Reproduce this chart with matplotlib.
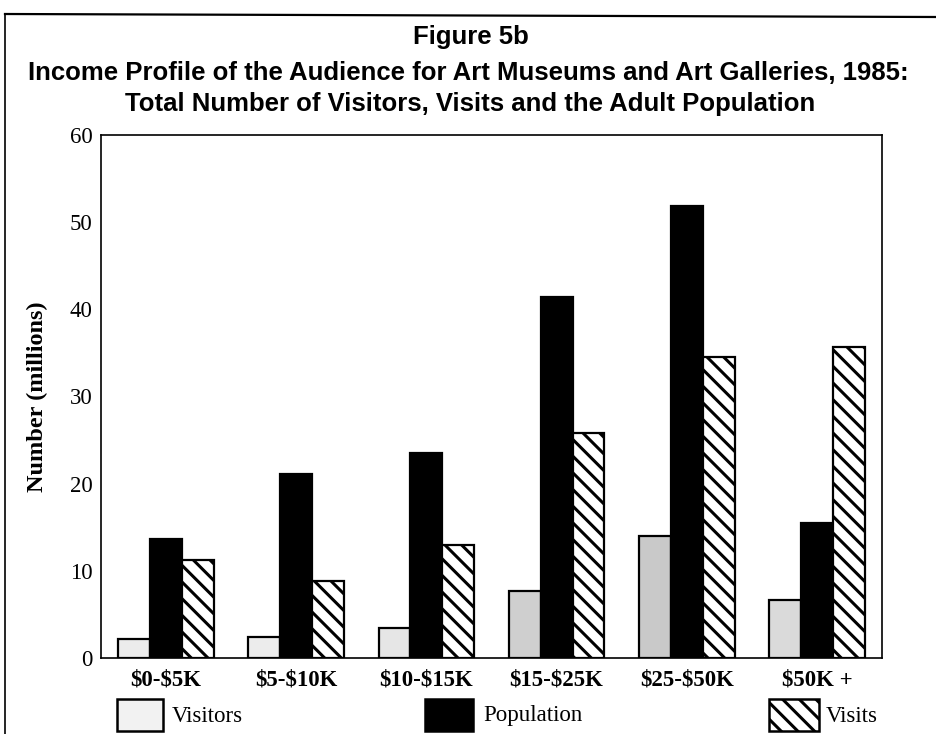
import matplotlib
matplotlib.use("Agg")
import matplotlib.pyplot as plt
import numpy as np
from matplotlib.patches import Rectangle
from matplotlib.lines import Line2D

categories = ["$0-$5K", "$5-$10K", "$10-$15K", "$15-$25K", "$25-$50K", "$50K +"]
visitors = [2.2, 2.4, 3.4, 7.7, 14.0, 6.7]
population = [13.7, 21.1, 23.5, 41.4, 51.8, 15.5]
visits = [11.2, 8.8, 13.0, 25.8, 34.5, 35.7]
yticks = [0, 10, 20, 30, 40, 50, 60]
legend_labels = ["Visitors", "Population", "Visits"]

W, H = 936, 734
plt.rcParams["hatch.linewidth"] = 2.2
fig = plt.figure(figsize=(W / 100, H / 100), dpi=100)
ax = fig.add_axes([101 / W, 1 - 658 / H, (882 - 101) / W, (658 - 135) / H])

x = np.arange(len(categories))
bw = 0.245
visitor_colors = ["#ececec", "#ececec", "#e6e6e6", "#cfcfcf", "#c9c9c9", "#dadada"]
ax.bar(x - bw, visitors, bw, color=visitor_colors, edgecolor="black", linewidth=1.6)
ax.bar(x, population, bw, color="black", edgecolor="black", linewidth=1.6)
ax.bar(x + bw, visits, bw, color="white", edgecolor="black", linewidth=1.6, hatch="\\\\")

ax.set_xlim(-0.5, 5.5)
ax.set_ylim(0, 60)
ax.set_yticks(yticks)
ax.set_yticklabels([str(t) for t in yticks], family="Liberation Serif", fontsize=16.5)
ax.set_xticks(x)
ax.set_xticklabels([c.replace("$", r"\$") for c in categories],
                   family="Liberation Serif", fontweight="bold", fontsize=16.5)
ax.tick_params(axis="both", length=0)
ax.tick_params(axis="y", pad=6)
ax.tick_params(axis="x", pad=8)
for s in ax.spines.values():
    s.set_linewidth(1.2)
ax.set_ylabel("Number (millions)", family="Liberation Serif", fontweight="bold", fontsize=17.5)
ax.yaxis.set_label_coords(-0.068, 0.5)

# titles
title_font = dict(family="Liberation Sans", fontweight="bold", fontsize=18.5, ha="center", va="center")
fig.text(471 / W, 1 - 37 / H, "Figure 5b", **title_font)
fig.text(468 / W, 1 - 73 / H, "Income Profile of the Audience for Art Museums and Art Galleries, 1985:", **title_font)
fig.text(470 / W, 1 - 104 / H, "Total Number of Visitors, Visits and the Adult Population", **title_font)

# frame
fig.add_artist(Line2D([5 / W, 5 / W], [0, 1 - 14 / H], transform=fig.transFigure, color="black", lw=1.2))
fig.add_artist(Line2D([5 / W, 1], [1 - 14 / H, 1 - 17 / H], transform=fig.transFigure, color="black", lw=1.6))

# legend
def leg(x0, x1, label, tx, **kw):
    fig.add_artist(Rectangle((x0 / W, 1 - 731 / H), (x1 - x0) / W, 32 / H,
                             transform=fig.transFigure, edgecolor="black", linewidth=1.8, **kw))
    fig.text(tx / W, 1 - 716 / H, label, family="Liberation Serif", fontsize=16.5, va="center", ha="left")

leg(117, 163, legend_labels[0], 172, facecolor="#f2f2f2")
leg(425, 473, legend_labels[1], 483, facecolor="black")
leg(769, 819, legend_labels[2], 826, facecolor="white", hatch="\\\\")

fig.savefig("out.png", dpi=100)
